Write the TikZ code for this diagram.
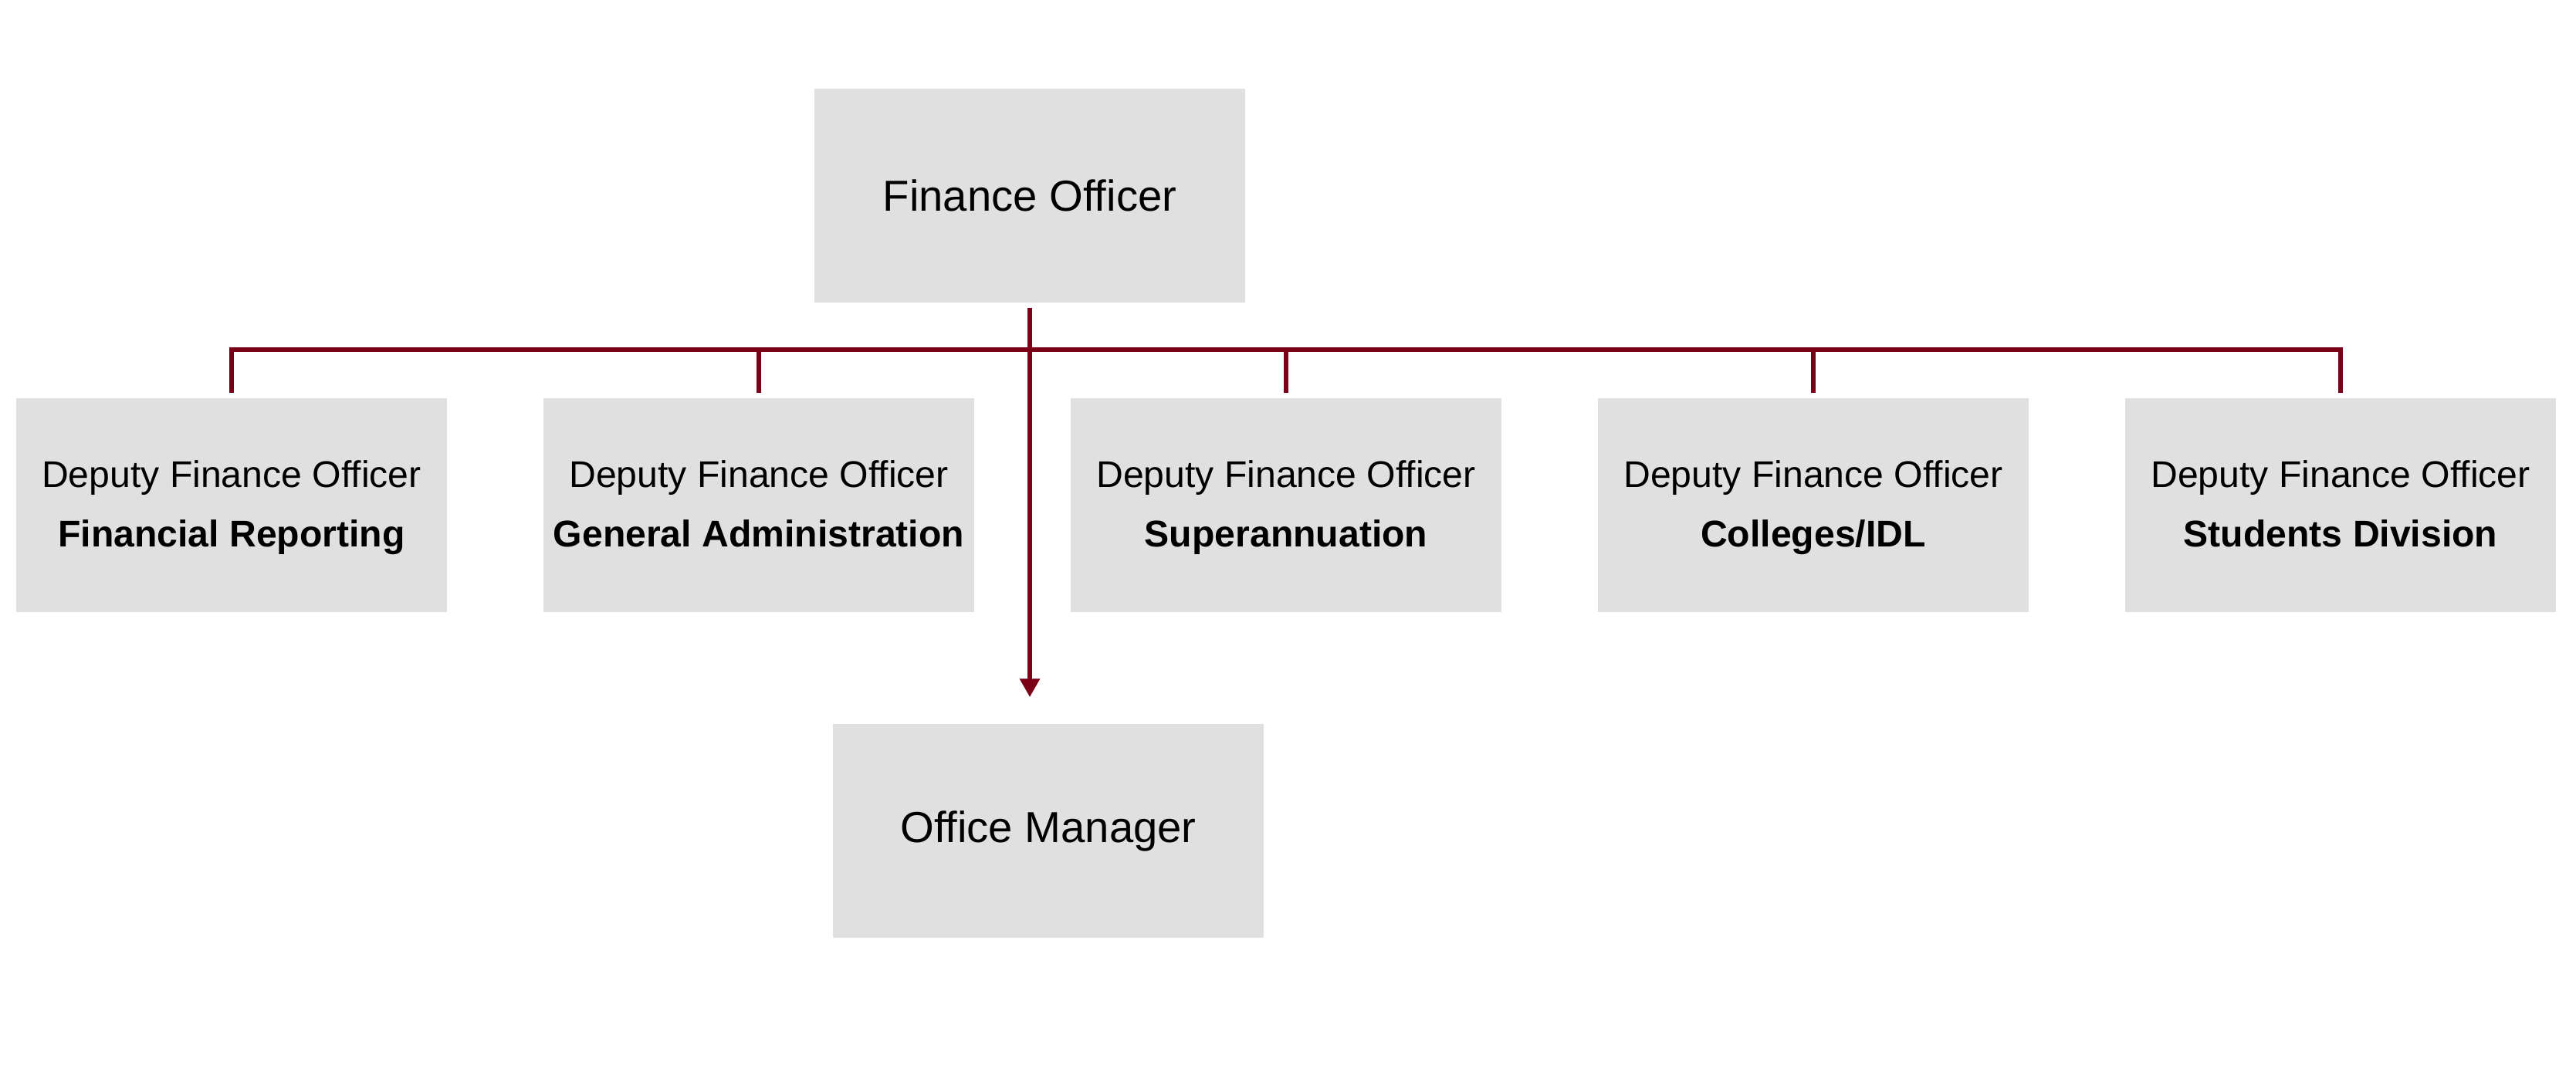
\documentclass[tikz,border=0pt]{standalone}
\usepackage{fontspec}
\setmainfont{Liberation Sans}
\usetikzlibrary{arrows.meta}
\definecolor{maroon}{RGB}{122,0,24}
\definecolor{boxgray}{RGB}{224,224,224}
\tikzset{
  post/.style={fill=boxgray, minimum width=5.58cm, minimum height=2.77cm, inner sep=0pt, align=center},
  head/.style={post, font=\fontsize{16}{19}\selectfont},
  deputy/.style={post, font=\fontsize{13.7}{21.9}\selectfont},
  link/.style={maroon, line width=1.7pt},
}
\newcommand{\dfo}[1]{\strut Deputy Finance Officer\\\textbf{#1}\strut}
\begin{document}
\begin{tikzpicture}
\useasboundingbox (0,0) rectangle (33.37,13.98);
\node[head] (fo) at (13.34,11.445) {Finance Officer};
\node[deputy] (d1) at (3.00,7.435) {\dfo{Financial Reporting}};
\node[deputy] (d2) at (9.83,7.435) {\dfo{General Administration}};
\node[deputy] (d3) at (16.66,7.435) {\dfo{Superannuation}};
\node[deputy] (d4) at (23.49,7.435) {\dfo{Colleges/IDL}};
\node[deputy] (d5) at (30.32,7.435) {\dfo{Students Division}};
\node[head] (om) at (13.58,3.215) {Office Manager};
\coordinate (bus) at (0,9.45);
\path (fo.south |- om.north) ++(0,0.34) coordinate (tip);
\draw[link] ([yshift=0.06cm]d1.north) |- (d5.north |- bus) -- ([yshift=0.06cm]d5.north);
\draw[link] ([yshift=0.06cm]d2.north) -- (d2.north |- bus);
\draw[link] ([yshift=0.06cm]d3.north) -- (d3.north |- bus);
\draw[link] ([yshift=0.06cm]d4.north) -- (d4.north |- bus);
\draw[link,-{Triangle[width=0.25cm,length=0.24cm]}] ([yshift=-0.06cm]fo.south) -- (tip);
\end{tikzpicture}
\end{document}
